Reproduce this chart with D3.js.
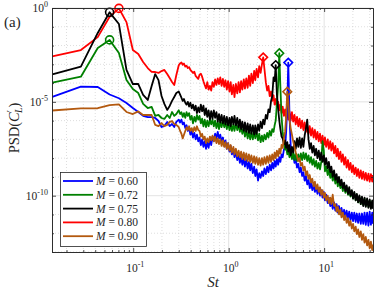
<!DOCTYPE html>
<html>
<head>
<meta charset="utf-8">
<script src="https://cdn.jsdelivr.net/npm/d3@7"></script>
<style>
  body { margin: 0; background: #fff; }
  svg text { font-family: "Liberation Serif", "Times New Roman", "DejaVu Serif", serif; fill: #262626; }
</style>
</head>
<body>
<svg id="chart" width="374" height="290"></svg>
<script>
// Strouhal number grid, shared by all spectra
const st = [
  0.0142, 0.0283, 0.0425, 0.0566, 0.0708, 0.085, 0.0991, 0.113, 0.127, 0.142,
  0.156, 0.170, 0.184, 0.198, 0.212, 0.227, 0.241, 0.255, 0.269, 0.283,
  0.300, 0.310, 0.320, 0.330, 0.340, 0.351, 0.362, 0.373, 0.385, 0.397,
  0.410, 0.423, 0.437, 0.451, 0.465, 0.480, 0.495, 0.511, 0.527, 0.544,
  0.561, 0.579, 0.597, 0.616, 0.636, 0.656, 0.677, 0.699, 0.721, 0.744,
  0.768, 0.792, 0.817, 0.843, 0.870, 0.898, 0.926, 0.956, 0.986, 1.02,
  1.05, 1.08, 1.12, 1.15, 1.19, 1.23, 1.27, 1.31, 1.35, 1.39,
  1.44, 1.48, 1.53, 1.58, 1.63, 1.68, 1.73, 1.79, 1.85, 1.90,
  1.96, 2.03, 2.09, 2.16, 2.23, 2.30, 2.37, 2.45, 2.53, 2.61,
  2.69, 2.78, 2.86, 2.95, 3.03, 3.11, 3.20, 3.30, 3.39, 3.48,
  3.58, 3.68, 3.79, 3.90, 4.00, 4.11, 4.21, 4.33, 4.46, 4.60,
  4.74, 4.89, 5.04, 5.20, 5.36, 5.53, 5.70, 5.88, 6.06, 6.25,
  6.45, 6.65, 6.86, 7.07, 7.29, 7.52, 7.76, 8.00, 8.25, 8.51,
  8.78, 9.05, 9.33, 9.62, 9.92, 10.2, 10.5, 10.9, 11.2, 11.6,
  11.9, 12.3, 12.7, 13.1, 13.5, 13.9, 14.3, 14.8, 15.2, 15.7,
  16.2, 16.7, 17.2, 17.8, 18.3, 18.9, 19.5, 20.1, 20.7, 21.4,
  22.0, 22.7, 23.4, 24.2, 24.9, 25.7, 26.5, 27.3, 28.2, 29.1,
  30.0, 30.9, 31.9, 32.5
];

// log10(PSD) of each case
const logPsd060 = [
  -4.73, -4.19, -4.21, -4.61, -4.81, -5.06, -5.33, -5.54, -5.75, -5.81,
  -5.81, -5.86, -6.02, -6.34, -6.29, -6.07, -6.29, -6.18, -6.34, -6.07,
  -5.95, -6.10, -5.95, -6.20, -6.10, -6.40, -6.25, -6.55, -6.40, -6.75,
  -6.55, -6.90, -6.65, -7.00, -6.75, -7.10, -6.90, -7.30, -7.00, -7.40,
  -7.10, -7.50, -7.15, -7.45, -7.00, -7.30, -6.85, -7.10, -6.70, -6.95,
  -6.60, -6.95, -6.75, -7.15, -6.90, -7.35, -7.05, -7.50, -7.20, -7.65,
  -7.35, -7.80, -7.50, -7.95, -7.65, -8.10, -7.80, -8.25, -7.90, -8.35,
  -8.00, -8.45, -8.10, -8.55, -8.20, -8.65, -8.30, -8.80, -8.45, -8.95,
  -8.60, -9.20, -8.80, -9.05, -8.70, -8.95, -8.55, -8.85, -8.45, -8.75,
  -8.35, -8.65, -8.25, -8.55, -8.15, -8.45, -8.05, -8.35, -7.95, -8.20,
  -7.80, -7.95, -7.55, -7.40, -6.60, -5.20, -2.91, -5.60, -7.30, -7.95,
  -7.80, -8.25, -8.05, -8.50, -8.30, -8.75, -8.50, -8.95, -8.75, -9.20,
  -8.95, -9.40, -9.15, -9.60, -9.30, -9.70, -9.40, -9.80, -9.50, -9.90,
  -9.60, -10.00, -9.70, -10.10, -9.80, -10.25, -9.95, -10.40, -10.10, -10.55,
  -10.25, -10.70, -10.35, -10.80, -10.45, -10.90, -10.55, -11.00, -10.65, -11.10,
  -10.75, -11.20, -10.80, -11.25, -10.85, -11.30, -10.90, -11.35, -10.90, -11.40,
  -10.95, -11.45, -10.95, -11.50, -10.95, -11.50, -10.90, -11.55, -10.90, -11.60,
  -10.85, -11.55, -10.90, -11.50
];

const logPsd072 = [
  -3.98, -3.66, -2.13, -1.70, -2.40, -3.84, -4.32, -4.53, -5.11, -5.33,
  -5.27, -5.75, -5.70, -5.86, -5.91, -5.70, -5.86, -5.54, -5.75, -5.65,
  -5.45, -5.65, -5.55, -5.80, -5.60, -5.85, -5.55, -5.75, -5.60, -5.95,
  -5.75, -6.15, -5.80, -6.05, -5.70, -5.95, -5.75, -6.15, -5.90, -6.30,
  -5.95, -6.35, -6.00, -6.30, -5.95, -6.20, -5.95, -6.30, -6.00, -6.40,
  -6.05, -6.45, -6.05, -6.35, -6.00, -6.35, -6.05, -6.45, -6.10, -6.50,
  -6.15, -6.55, -6.20, -6.55, -6.15, -6.50, -6.20, -6.60, -6.30, -6.70,
  -6.40, -6.85, -6.50, -6.95, -6.55, -7.00, -6.60, -7.00, -6.55, -6.95,
  -6.60, -7.05, -6.70, -7.15, -6.80, -7.10, -6.75, -7.00, -6.65, -6.90,
  -6.55, -6.80, -6.45, -6.60, -6.25, -6.00, -5.10, -4.10, -2.41, -4.20,
  -5.80, -6.60, -7.20, -7.55, -7.40, -7.80, -7.55, -7.95, -7.65, -8.05,
  -7.70, -8.10, -7.75, -8.15, -7.80, -8.15, -7.75, -8.10, -7.70, -8.05,
  -7.75, -8.15, -7.85, -8.25, -7.95, -8.35, -8.05, -8.45, -8.15, -8.55,
  -8.25, -8.60, -8.20, -7.10, -7.60, -8.70, -8.45, -8.90, -8.60, -9.05,
  -8.75, -9.20, -8.90, -9.35, -9.05, -9.50, -9.20, -9.60, -9.30, -9.75,
  -9.45, -9.85, -9.55, -9.95, -9.65, -10.05, -9.75, -10.15, -9.85, -10.25,
  -9.95, -10.35, -10.05, -10.45, -10.10, -10.50, -10.15, -10.55, -10.20, -10.60,
  -10.25, -10.65, -10.30, -10.60
];

const logPsd075 = [
  -3.54, -3.12, -1.33, -0.23, -0.85, -3.30, -4.05, -4.05, -4.63, -4.90,
  -4.16, -3.52, -3.84, -4.69, -5.11, -5.43, -5.22, -4.95, -4.74, -4.53,
  -4.45, -4.62, -4.78, -4.95, -4.85, -5.05, -5.15, -5.00, -5.25, -5.05,
  -5.35, -5.15, -5.45, -5.20, -5.60, -5.30, -5.55, -5.15, -5.50, -5.20,
  -5.70, -5.35, -5.80, -5.45, -5.95, -5.50, -5.90, -5.45, -5.85, -5.55,
  -6.05, -5.65, -6.10, -5.70, -6.15, -5.75, -6.20, -5.80, -6.25, -5.85,
  -6.30, -5.80, -6.20, -5.75, -6.25, -5.85, -6.35, -5.95, -6.45, -6.05,
  -6.55, -6.10, -6.60, -6.15, -6.65, -6.20, -6.70, -6.25, -6.75, -6.25,
  -6.70, -6.20, -6.55, -6.05, -6.40, -5.95, -6.20, -5.70, -5.90, -5.40,
  -5.55, -4.95, -4.70, -3.70, -3.90, -3.04, -4.60, -5.40, -6.00, -6.45,
  -6.85, -6.95, -7.25, -7.05, -7.45, -7.15, -7.65, -7.30, -7.85, -7.40,
  -7.70, -7.10, -7.50, -6.95, -7.40, -6.90, -7.45, -6.95, -7.40, -6.80,
  -6.40, -5.95, -7.00, -7.50, -7.20, -7.70, -7.35, -7.85, -7.50, -8.00,
  -7.60, -8.10, -7.70, -8.20, -7.85, -8.35, -8.00, -8.55, -8.20, -8.75,
  -8.45, -9.00, -8.65, -9.15, -8.85, -9.30, -9.00, -9.45, -9.15, -9.60,
  -9.30, -9.75, -9.45, -9.90, -9.55, -10.00, -9.70, -10.15, -9.80, -10.25,
  -9.90, -10.35, -9.98, -10.45, -10.05, -10.55, -10.10, -10.60, -10.15, -10.65,
  -10.20, -10.70, -10.25, -10.70
];

const logPsd080 = [
  -2.58, -2.24, -1.55, -0.47, -0.02, -0.75, -2.24, -2.45, -2.88, -3.20,
  -3.40, -3.41, -3.46, -3.36, -3.30, -3.52, -3.73, -3.94, -4.10, -3.57,
  -3.05, -2.95, -2.90, -3.02, -2.96, -3.12, -3.08, -3.20, -3.15, -3.30,
  -3.38, -3.46, -3.40, -3.62, -3.70, -3.78, -3.55, -3.50, -3.66, -3.90,
  -4.10, -4.28, -3.95, -4.35, -4.15, -4.40, -3.95, -4.20, -3.80, -4.10,
  -3.75, -4.05, -3.70, -4.15, -3.78, -4.20, -3.85, -4.35, -3.90, -4.45,
  -3.95, -4.60, -4.10, -4.75, -4.05, -4.55, -3.95, -4.50, -3.90, -4.35,
  -3.80, -4.30, -3.75, -4.25, -3.60, -4.15, -3.50, -4.00, -3.35, -3.85,
  -3.25, -3.70, -3.10, -3.45, -3.00, -2.63, -3.25, -3.95, -4.40, -4.15,
  -4.70, -4.45, -4.95, -4.65, -5.15, -4.85, -5.30, -5.00, -5.45, -5.15,
  -5.60, -5.25, -5.75, -5.40, -5.85, -5.45, -5.95, -5.50, -6.00, -5.55,
  -6.05, -5.70, -6.20, -5.80, -6.30, -5.90, -6.40, -6.00, -6.50, -6.10,
  -6.60, -6.20, -6.70, -6.30, -6.80, -6.40, -6.90, -6.50, -7.00, -6.60,
  -7.10, -6.70, -7.20, -6.80, -7.30, -6.90, -7.40, -7.00, -7.50, -7.10,
  -7.60, -7.20, -7.75, -7.35, -7.90, -7.50, -8.05, -7.65, -8.20, -7.80,
  -8.35, -7.95, -8.50, -8.10, -8.62, -8.25, -8.75, -8.38, -8.85, -8.50,
  -8.95, -8.58, -9.05, -8.65, -9.10, -8.72, -9.15, -8.78, -9.20, -8.82,
  -9.25, -8.85, -9.25, -8.90
];

const logPsd090 = [
  -5.46, -5.35, -5.34, -5.17, -5.14, -5.54, -5.65, -5.51, -5.70, -5.70,
  -5.70, -6.23, -6.29, -6.13, -6.29, -6.23, -6.07, -6.02, -6.18, -6.23,
  -6.35, -6.55, -6.70, -6.95, -6.75, -6.55, -6.35, -6.50, -6.30, -6.55,
  -6.40, -6.60, -6.35, -6.55, -6.30, -6.50, -6.55, -6.85, -6.70, -7.00,
  -6.85, -7.20, -6.95, -7.15, -6.85, -7.05, -6.80, -7.10, -6.85, -7.20,
  -6.95, -7.25, -7.00, -7.35, -7.05, -7.40, -7.15, -7.50, -7.20, -7.60,
  -7.30, -7.70, -7.40, -7.80, -7.50, -7.90, -7.60, -7.95, -7.65, -8.05,
  -7.70, -8.10, -7.75, -8.15, -7.80, -8.20, -7.85, -8.25, -7.90, -8.30,
  -7.95, -8.35, -8.00, -8.40, -8.00, -8.35, -7.95, -8.30, -7.90, -8.25,
  -7.85, -8.20, -7.80, -8.10, -7.70, -8.00, -7.60, -7.90, -7.50, -7.75,
  -7.30, -7.45, -6.95, -6.60, -5.80, -4.46, -4.95, -5.90, -6.40, -6.75,
  -7.10, -7.40, -7.70, -7.90, -8.15, -8.00, -8.40, -8.25, -8.65, -8.45,
  -8.90, -8.70, -9.10, -8.90, -9.30, -9.10, -9.50, -9.25, -9.65, -9.40,
  -9.80, -9.55, -9.95, -9.70, -10.10, -9.85, -10.25, -10.00, -10.40, -10.10,
  -10.45, -9.95, -10.55, -10.45, -10.85, -10.60, -11.00, -10.75, -11.15, -10.90,
  -11.30, -11.05, -11.45, -11.20, -11.60, -11.35, -11.75, -11.50, -11.90, -11.65,
  -12.05, -11.80, -12.20, -11.90, -12.35, -12.05, -12.50, -12.20, -12.65, -12.35,
  -12.80, -12.45, -12.90, -12.60
];

const labels = ["0.60", "0.72", "0.75", "0.80", "0.90"];
const colors = ["#0000ff", "#008000", "#000000", "#ff0000", "#b3590f"];
const seriesLog = [logPsd060, logPsd072, logPsd075, logPsd080, logPsd090];
// drawing order (brown last, on top)
const drawOrder = [3, 0, 1, 2, 4];

const xTicks = [0.1, 1, 10];
const yTicks = [1e-10, 1e-5, 1];

const plotL = 52, plotR = 373, plotT = 8, plotB = 252;
const serif = "'Liberation Serif', 'Times New Roman', 'DejaVu Serif', serif";

const svg = d3.select("#chart").attr("font-family", serif);

const x = d3.scaleLog().domain([0.0141, 32.5]).range([plotL, plotR]);
const y = d3.scaleLog().domain([1e-13, 1]).range([plotB, plotT]);

const series = seriesLog.map(function(arr) {
  return arr.map(function(v, i) { return [st[i], Math.pow(10, v)]; });
});

// minor tick values
const xMinor = [];
[0.01, 0.1, 1, 10].forEach(function(dec) {
  for (var k = 2; k <= 9; k++) {
    var v = dec * k;
    if (v >= 0.0141 && v <= 32.5) xMinor.push(v);
  }
});
const yMinor = [];
for (var e = -13; e <= 0; e++) {
  if (e % 5 != 0) yMinor.push(Math.pow(10, e));
}

// grid
const grid = svg.append("g");
grid.selectAll(".xminor").data(xMinor).enter().append("line")
  .attr("x1", d => x(d)).attr("x2", d => x(d))
  .attr("y1", plotT).attr("y2", plotB)
  .attr("stroke", "#c8c8c8").attr("stroke-width", 0.6)
  .attr("stroke-dasharray", "1,2");
grid.selectAll(".yminor").data(yMinor).enter().append("line")
  .attr("x1", plotL).attr("x2", plotR)
  .attr("y1", d => y(d)).attr("y2", d => y(d))
  .attr("stroke", "#c8c8c8").attr("stroke-width", 0.6)
  .attr("stroke-dasharray", "1,2");
grid.selectAll(".xmajor").data(xTicks).enter().append("line")
  .attr("x1", d => x(d)).attr("x2", d => x(d))
  .attr("y1", plotT).attr("y2", plotB)
  .attr("stroke", "#e3e3e3").attr("stroke-width", 1);
grid.selectAll(".ymajor").data(yTicks).enter().append("line")
  .attr("x1", plotL).attr("x2", plotR)
  .attr("y1", d => y(d)).attr("y2", d => y(d))
  .attr("stroke", "#e3e3e3").attr("stroke-width", 1);

// clip
svg.append("clipPath").attr("id", "plotclip")
  .append("rect").attr("x", plotL).attr("y", plotT)
  .attr("width", plotR - plotL).attr("height", plotB - plotT);

const line = d3.line()
  .x(d => x(d[0]))
  .y(d => y(d[1]));

const lines = svg.append("g").attr("clip-path", "url(#plotclip)");
drawOrder.forEach(function(i) {
  lines.append("path")
    .datum(series[i])
    .attr("fill", "none")
    .attr("stroke", colors[i])
    .attr("stroke-width", 1.8)
    .attr("stroke-linejoin", "round")
    .attr("d", line);
});

// peak markers: circles for the low-frequency hump, diamonds for the high-frequency spike
const markers = svg.append("g");
drawOrder.forEach(function(i) {
  var s = series[i];
  var low = s.filter(d => d[0] < 0.2);
  var high = s.filter(d => d[0] > 1.5 && d[0] < 6);
  var pLow = low[d3.maxIndex(low, d => d[1])];
  var pHigh = high[d3.maxIndex(high, d => d[1])];
  if (i == 1 || i == 2 || i == 3) {
    markers.append("circle")
      .attr("cx", x(pLow[0])).attr("cy", y(pLow[1])).attr("r", 4)
      .attr("fill", "none").attr("stroke", colors[i]).attr("stroke-width", 1.6);
  }
  var cx = x(pHigh[0]), cy = y(pHigh[1]), r = 4.3;
  markers.append("path")
    .attr("d", "M" + cx + "," + (cy - r) + "L" + (cx + r) + "," + cy + "L" + cx + "," + (cy + r) + "L" + (cx - r) + "," + cy + "Z")
    .attr("fill", "none").attr("stroke", colors[i]).attr("stroke-width", 1.6);
});

// axes (ticks inside, box on)
function styleAxis(g) {
  g.selectAll("path").attr("stroke", "#262626").attr("stroke-width", 0.8);
  g.selectAll("line").attr("stroke", "#262626").attr("stroke-width", 0.8);
  g.selectAll("text").remove();
}
svg.append("g").attr("transform", "translate(0," + plotB + ")")
  .call(d3.axisBottom(x).tickValues(xTicks).tickSizeInner(-4).tickSizeOuter(0)).call(styleAxis);
svg.append("g").attr("transform", "translate(0," + plotB + ")")
  .call(d3.axisBottom(x).tickValues(xMinor).tickSizeInner(-2).tickSizeOuter(0)).call(styleAxis);
svg.append("g").attr("transform", "translate(0," + plotT + ")")
  .call(d3.axisTop(x).tickValues(xTicks).tickSizeInner(-4).tickSizeOuter(0)).call(styleAxis);
svg.append("g").attr("transform", "translate(0," + plotT + ")")
  .call(d3.axisTop(x).tickValues(xMinor).tickSizeInner(-2).tickSizeOuter(0)).call(styleAxis);
svg.append("g").attr("transform", "translate(" + plotL + ",0)")
  .call(d3.axisLeft(y).tickValues(yTicks).tickSizeInner(-4).tickSizeOuter(0)).call(styleAxis);
svg.append("g").attr("transform", "translate(" + plotL + ",0)")
  .call(d3.axisLeft(y).tickValues(yMinor).tickSizeInner(-2).tickSizeOuter(0)).call(styleAxis);
svg.append("g").attr("transform", "translate(" + plotR + ",0)")
  .call(d3.axisRight(y).tickValues(yTicks).tickSizeInner(-4).tickSizeOuter(0)).call(styleAxis);
svg.append("g").attr("transform", "translate(" + plotR + ",0)")
  .call(d3.axisRight(y).tickValues(yMinor).tickSizeInner(-2).tickSizeOuter(0)).call(styleAxis);

// tick labels 10^n
function powLabel(g, base, exp, tx, ty, anchor) {
  var t = g.append("text").attr("x", tx).attr("y", ty)
    .attr("text-anchor", anchor).style("font-size", "11.5px");
  t.append("tspan").text(base);
  t.append("tspan").attr("dy", -5).style("font-size", "8px").text(exp);
}
const lab = svg.append("g");
xTicks.forEach(function(v) {
  powLabel(lab, "10", String(Math.round(Math.log10(v))), x(v) + 2, 272, "middle");
});
yTicks.forEach(function(v) {
  powLabel(lab, "10", String(Math.round(Math.log10(v))), 48, y(v) + 4, "end");
});

// axis titles
svg.append("text")
  .attr("x", 213).attr("y", 287)
  .attr("text-anchor", "middle")
  .style("font-size", "15px").style("font-style", "italic")
  .text("St");

const yl = svg.append("text")
  .attr("transform", "translate(19,128) rotate(-90)")
  .attr("text-anchor", "middle")
  .style("font-size", "14.5px");
yl.append("tspan").text("PSD(");
yl.append("tspan").style("font-style", "italic").text("C");
yl.append("tspan").attr("dy", -5).style("font-size", "10px").text("\u2032");
yl.append("tspan").attr("dy", 8).attr("dx", -3).style("font-size", "10px").style("font-style", "italic").text("L");
yl.append("tspan").attr("dy", -3).text(")");

svg.append("text")
  .attr("x", 4).attr("y", 27)
  .style("font-size", "15px")
  .text("(a)");

// legend
const lg = svg.append("g");
lg.append("rect")
  .attr("x", 60.5).attr("y", 172.5).attr("width", 86).attr("height", 74)
  .attr("fill", "#fff").attr("stroke", "#262626").attr("stroke-width", 0.8);
labels.forEach(function(l, i) {
  var yy = 181 + i * 13.8;
  lg.append("line")
    .attr("x1", 63).attr("x2", 93).attr("y1", yy).attr("y2", yy)
    .attr("stroke", colors[i]).attr("stroke-width", 1.8);
  var t = lg.append("text").attr("x", 96).attr("y", yy + 4).style("font-size", "11.5px");
  t.append("tspan").style("font-style", "italic").text("M");
  t.append("tspan").text(" = " + l);
});
</script>
</body>
</html>
